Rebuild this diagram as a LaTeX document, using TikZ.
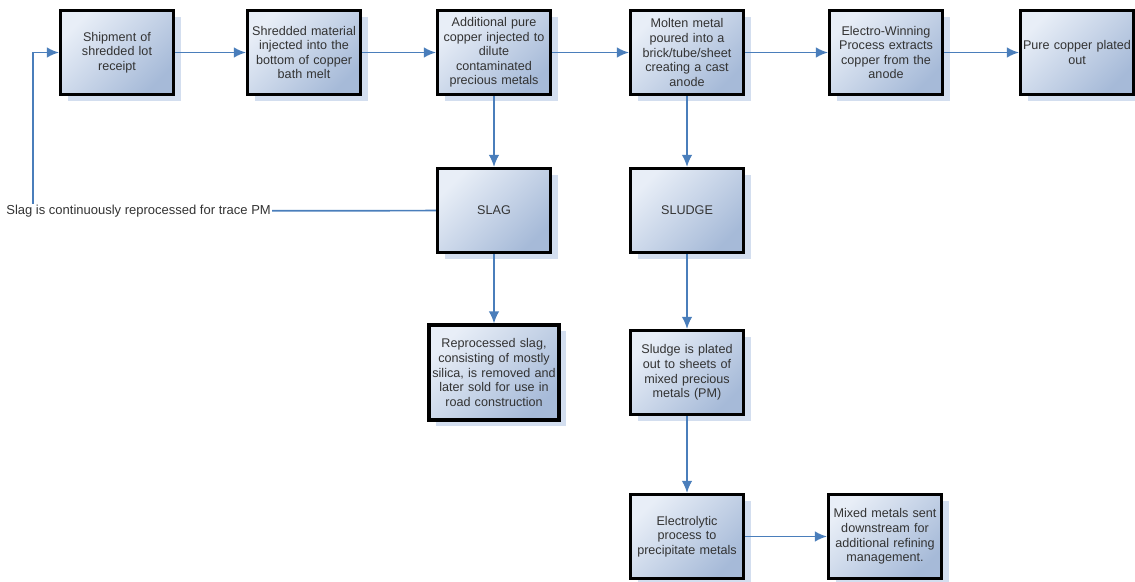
\documentclass[tikz,border=0pt]{standalone}
\usepackage{fontspec}
\setmainfont{Liberation Sans}
\usetikzlibrary{shapes,arrows,arrows.meta,positioning,calc,shadows}
\definecolor{boxlight}{HTML}{E8EEF7}
\definecolor{boxdark}{HTML}{A6BAD8}
\definecolor{shadowblue}{HTML}{D3DEEF}
\definecolor{flowblue}{HTML}{4A7EBB}
\tikzstyle{block} = [draw, rectangle, line width=3.2pt, top color=boxlight, bottom color=boxdark,
    shading angle=45, minimum height=84pt, minimum width=113pt, text width=112pt, align=center,
    inner sep=0.5pt, text=black!80, font=\fontsize{12.6}{14.6}\selectfont,
    drop shadow={shadow xshift=7pt, shadow yshift=-6pt, fill=shadowblue, opacity=1}]
\tikzstyle{note} = [inner sep=1pt, text=black!80, font=\fontsize{13}{14.6}\selectfont]
\tikzstyle{flow} = [draw, line width=1.7pt, color=flowblue]

\begin{document}
\begin{tikzpicture}[x=1pt, y=-1pt, >={Latex[length=12pt,width=10.5pt]}]
    \useasboundingbox (0,0) rectangle (1135,581);
    \node [block] (ship) at (117,52.5) {Shipment of\\shredded lot\\receipt};
    \node [block, right of=ship, node distance=187pt] (inject) {Shredded material\\injected into the\\bottom of copper\\bath melt};
    \node [block, right of=inject, node distance=190pt] (dilute) {Additional pure\\copper injected to\\dilute\\contaminated\\precious metals};
    \node [block, right of=dilute, node distance=193pt] (anode) {Molten metal\\poured into a\\brick/tube/sheet\\creating a cast\\anode};
    \node [block, right of=anode, node distance=199pt] (winning) {Electro-Winning\\Process extracts\\copper from the\\anode};
    \node [block, right of=winning, node distance=191pt] (pure) {Pure copper plated\\out};

    \node [block, below of=dilute, node distance=158pt] (slag) {SLAG};
    \node [block, below of=anode, node distance=158pt] (sludge) {SLUDGE};
    \node [block, below of=slag, node distance=162pt, minimum width=129pt, minimum height=95pt,
           text width=129pt] (reproc) {Reprocessed slag,\\consisting of mostly\\silica, is removed and\\later sold for use in\\road construction};
    \node [block, below of=sludge, node distance=162pt] (plated) {Sludge is plated\\out to sheets of\\mixed precious\\metals (PM)};
    \node [block, below of=plated, node distance=164pt] (electro) {Electrolytic\\process to\\precipitate metals};
    \node [block, right of=electro, node distance=198pt] (mixed) {Mixed metals sent\\downstream for\\additional refining\\management.};

    \node [note, anchor=east] (slagnote) at (272,211) {Slag is continuously reprocessed for trace PM};
    \coordinate (fbx) at (33,0);

    % main line
    \draw [flow,->] (ship) -- (inject);
    \draw [flow,->] (inject) -- (dilute);
    \draw [flow,->] (dilute) -- (anode);
    \draw [flow,->] (anode) -- (winning);
    \draw [flow,->] (winning) -- (pure);

    % branches
    \draw [flow,->] (dilute) -- (slag);
    \draw [flow,->] (slag) -- (reproc);
    \draw [flow,->] (anode) -- (sludge);
    \draw [flow,->] (sludge) -- (plated);
    \draw [flow,->] (plated) -- (electro);
    \draw [flow,->] (electro) -- (mixed);

    % slag back to the start
    \draw [flow] (slag) -- (slagnote);
    \draw [flow,->] (fbx |- slagnote.north) |- (ship);
\end{tikzpicture}
\end{document}
